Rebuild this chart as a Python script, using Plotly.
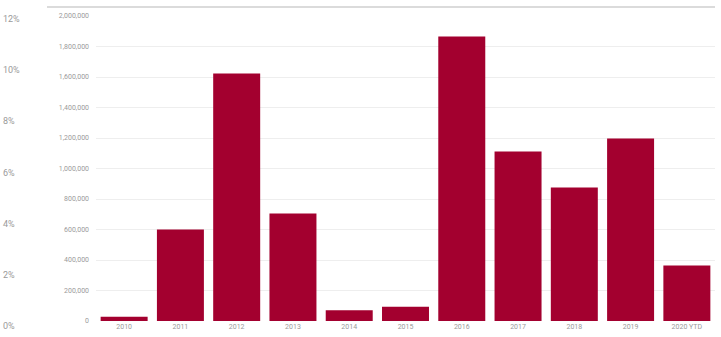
import plotly.graph_objects as go

years = ["2010", "2011", "2012", "2013", "2014", "2015", "2016", "2017", "2018", "2019", "2020 YTD"]
values = [28000, 600000, 1623000, 705000, 71000, 93000, 1866000, 1111000, 875000, 1197000, 364000]
count_ticks = [0, 200000, 400000, 600000, 800000, 1000000, 1200000, 1400000, 1600000, 1800000, 2000000]
pct_ticks = [0, 2, 4, 6, 8, 10, 12]
pct_labels = [f"{p}%" for p in pct_ticks]

W, H = 721, 337
ml, mr, mt, mb = 0, 6, 16, 7
plot_w = W - ml - mr
plot_h = H - mt - mb
bottom_px = H - mb


def py(px):
    return (bottom_px - px) / plot_h


x_start = (96 - ml) / plot_w

fig = go.Figure()
fig.add_trace(go.Bar(x=years, y=values, marker=dict(color="#A3002F", line=dict(width=0)),
                     showlegend=False, hoverinfo="x+y"))
# invisible trace to activate the percent axis
fig.add_trace(go.Scatter(x=[0], y=[0], xaxis="x2", yaxis="y2", mode="markers",
                         marker=dict(opacity=0), showlegend=False, hoverinfo="skip"))

fig.update_layout(
    width=W, height=H,
    margin=dict(l=ml, r=mr, t=mt, b=mb),
    paper_bgcolor="white", plot_bgcolor="rgba(0,0,0,0)",
    bargap=0.165,
    font=dict(family="Roboto, Arial, sans-serif", color="#9a9a9a", size=7),
    xaxis=dict(domain=[x_start, 1], showgrid=False, showline=False, ticks="",
               tickfont=dict(size=7, color="#9a9a9a"), automargin=False),
    yaxis=dict(domain=[py(321), 1], range=[0, 2000000], tickvals=count_ticks, tickformat=",d",
               showgrid=True, gridcolor="#eeeeee", gridwidth=1, zeroline=False,
               showline=False, ticks="", ticklabelstandoff=6,
               tickfont=dict(size=7, color="#9a9a9a"), automargin=False),
    xaxis2=dict(domain=[x_start, 1], anchor="y2", visible=False, range=[-1, 1]),
    yaxis2=dict(domain=[py(326), py(19)], range=[0, 12], tickvals=pct_ticks, ticktext=pct_labels,
                side="right", anchor="free", position=0,
                showgrid=False, zeroline=False, showline=False, ticks="",
                ticklabelstandoff=2,
                tickfont=dict(size=9, color="#9a9a9a"), automargin=False),
    shapes=[dict(type="line", xref="paper", yref="paper",
                 x0=(47 - ml) / plot_w, x1=1,
                 y0=py(7), y1=py(7),
                 line=dict(color="#cfcfcf", width=1.5))],
)

fig.write_html("out.html")
